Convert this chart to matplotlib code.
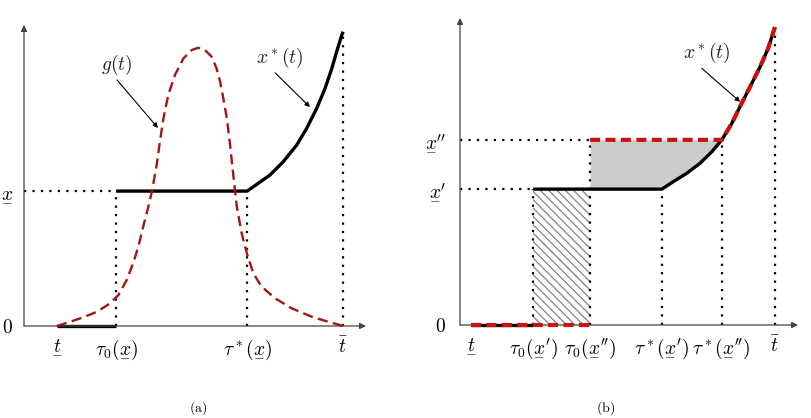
import matplotlib
matplotlib.use("Agg")
import matplotlib.pyplot as plt
from matplotlib.mathtext import MathTextParser

plt.rcParams["mathtext.fontset"] = "cm"
plt.rcParams["font.family"] = "serif"
plt.rcParams["font.serif"] = ["DejaVu Serif"]
plt.rcParams["hatch.linewidth"] = 0.8
plt.rcParams["hatch.color"] = "#777777"

# ---- panel (a) data ----
a_t_lo, a_tau0, a_taustar, a_tbar = 1.02, 2.86, 6.93, 9.91
a_xlevel = 4.19

a_g_t = [1.02, 1.43, 1.84, 2.26, 2.67, 2.93, 3.19, 3.39, 3.55, 3.70, 3.86,
         3.97, 4.12, 4.22, 4.33, 4.48, 4.69, 4.95, 5.21, 5.41, 5.62, 5.83,
         5.98, 6.09, 6.19, 6.30, 6.40, 6.50, 6.55, 6.61, 6.76, 6.92, 7.12,
         7.38, 7.80, 8.31, 8.93, 9.45, 9.91]
a_g_y = [0.00, 0.13, 0.27, 0.44, 0.70, 0.96, 1.43, 1.95, 2.46, 3.08, 3.70,
         4.17, 5.00, 5.72, 6.45, 7.17, 7.80, 8.31, 8.57, 8.64, 8.57, 8.36,
         8.00, 7.59, 7.07, 6.45, 5.62, 4.69, 4.22, 3.70, 2.88, 2.26, 1.64,
         1.22, 0.86, 0.55, 0.29, 0.13, 0.00]

a_curve_t = [6.93, 7.23, 7.64, 8.05, 8.47, 8.78, 9.09, 9.35, 9.56, 9.71,
             9.87, 9.91]
a_curve_y = [4.19, 4.40, 4.69, 5.10, 5.62, 6.14, 6.76, 7.38, 8.00, 8.52,
             9.04, 9.14]

# ---- panel (b) data ----
b_t_lo, b_tau0_1, b_tau0_2 = 0.34, 2.27, 4.04
b_taustar_1, b_taustar_2, b_tbar = 6.27, 8.13, 9.78
b_x1, b_x2 = 4.22, 5.75

b_curve_t = [6.27, 6.62, 7.04, 7.45, 7.82, 8.13, 8.44, 8.75, 9.01, 9.32,
             9.57, 9.78]
b_curve_y = [4.22, 4.45, 4.71, 5.02, 5.38, 5.75, 6.26, 6.89, 7.40, 8.02,
             8.59, 9.25]


def underline_ok():
    try:
        MathTextParser("path").parse(r"$\underline{x}$")
        return True
    except Exception:
        return False


if underline_ok():
    def ul(s):
        return r"\underline{%s}" % s
else:
    def ul(s):
        return r"\underset{-}{%s}" % s

a_xticks = [a_t_lo, a_tau0, a_taustar, a_tbar]
a_xlabels = ["$" + ul("t") + "$", r"$\tau_0(" + ul("x") + ")$",
             r"$\tau^*(" + ul("x") + ")$", r"$\bar{t}$"]
a_yticks = [0, a_xlevel]
a_ylabels = ["$0$", "$" + ul("x") + "$"]

b_xticks = [b_t_lo, b_tau0_1, b_tau0_2, b_taustar_1, b_taustar_2, b_tbar]
b_xlabels = ["$" + ul("t") + "$",
             r"$\tau_0(" + ul("x") + "')$", r"$\tau_0(" + ul("x") + "'')$",
             r"$\tau^*(" + ul("x") + "')$", r"$\tau^*(" + ul("x") + "'')$",
             r"$\bar{t}$"]
b_yticks = [0, b_x1, b_x2]
b_ylabels = ["$0$", "$" + ul("x") + "'$", "$" + ul("x") + "''$"]

DOT = dict(color="black", lw=1.6, linestyle=(0, (1, 2.8)), clip_on=False,
           dash_capstyle="butt")
BLACK = dict(color="black", lw=2.4, solid_capstyle="butt",
             solid_joinstyle="round", clip_on=False)
FS = 14

fig = plt.figure(figsize=(8.11, 4.18), dpi=100)
SCALE = 32.2  # pixels per data unit

ax_a = fig.add_axes([24 / 811, 92 / 418, 342 / 811, 301 / 418])
ax_a.set_xlim(0, 342 / SCALE)
ax_a.set_ylim(0, 301 / SCALE)
ax_b = fig.add_axes([460 / 811, 93 / 418, 338 / 811, 307 / 418])
ax_b.set_xlim(0, 338 / SCALE)
ax_b.set_ylim(0, 307 / SCALE)


def setup(ax, xt, xl, yt, yl, ypad):
    for s in ax.spines.values():
        s.set_visible(False)
    ax.set_xticks(xt, xl)
    ax.set_yticks(yt, yl)
    ax.tick_params(axis="x", length=0, pad=8, labelsize=FS)
    ax.tick_params(axis="y", length=0, pad=ypad, labelsize=FS)
    arrow = dict(arrowstyle="-|>", lw=0.9, color="#444444",
                 mutation_scale=9, shrinkA=0, shrinkB=0)
    ax.annotate("", xy=(1, 0), xytext=(0, 0), xycoords="axes fraction",
                arrowprops=arrow)
    ax.annotate("", xy=(0, 1), xytext=(0, 0), xycoords="axes fraction",
                arrowprops=arrow)


def label_arrow(ax, text, text_xy, tail, head):
    ax.text(text_xy[0], text_xy[1], text, fontsize=FS, ha="center",
            va="center", color="#222222")
    ax.annotate("", xy=head, xytext=tail,
                arrowprops=dict(arrowstyle="-|>", lw=0.8, color="black",
                                mutation_scale=7, shrinkA=0, shrinkB=0))


# ---------------- panel (a) ----------------
setup(ax_a, a_xticks, a_xlabels, a_yticks, a_ylabels, 8)
ax_a.plot([0, a_tau0], [a_xlevel, a_xlevel], **DOT)
ax_a.plot([a_tau0, a_tau0], [0, a_xlevel], **DOT)
ax_a.plot([a_taustar, a_taustar], [0, a_xlevel], **DOT)
ax_a.plot([a_tbar, a_tbar], [0, a_curve_y[-1]], **DOT)
ax_a.plot([a_t_lo, a_tau0], [0, 0], **BLACK)
ax_a.plot([a_tau0] + a_curve_t, [a_xlevel] + a_curve_y, **BLACK)
ax_a.plot(a_g_t, a_g_y, color="#a31515", lw=1.7, linestyle=(0, (4.3, 2.3)),
          clip_on=False, zorder=3)
label_arrow(ax_a, "$g(t)$", (2.89, 8.11), (2.89, 7.64), (4.16, 6.15))
label_arrow(ax_a, "$x^*(t)$", (7.95, 8.32), (7.80, 7.86), (8.88, 6.80))

# ---------------- panel (b) ----------------
setup(ax_b, b_xticks, b_xlabels, b_yticks, b_ylabels, 10)

# grey area between x'' and the lower path
fill_t = [b_tau0_2] + [t for t in b_curve_t if t <= b_taustar_2]
fill_low = [b_x1] + [y for t, y in zip(b_curve_t, b_curve_y) if t <= b_taustar_2]
ax_b.fill_between(fill_t, fill_low, b_x2, color="#cccccc", lw=0, zorder=1)
# hatched block
ax_b.fill_between([b_tau0_1, b_tau0_2], 0, b_x1, facecolor="none",
                  edgecolor="#777777", hatch="\\\\\\\\", lw=0, zorder=1)

for t0, top in [(b_tau0_1, b_x1), (b_tau0_2, b_x2), (b_taustar_1, b_x1),
                (b_taustar_2, b_x2), (b_tbar, b_curve_y[-1])]:
    ax_b.plot([t0, t0], [0, top], zorder=2, **DOT)
ax_b.plot([0, b_tau0_1], [b_x1, b_x1], **DOT)
ax_b.plot([0, b_tau0_2], [b_x2, b_x2], **DOT)

ax_b.plot([b_t_lo, b_tau0_1], [0, 0], zorder=3, **BLACK)
ax_b.plot([b_tau0_1] + b_curve_t, [b_x1] + b_curve_y, zorder=3, **BLACK)

RED = "#cc1111"
ax_b.plot([b_t_lo, b_tau0_2], [0, 0], color=RED, lw=3.0,
          linestyle=(0, (2.4, 1.3)), clip_on=False, zorder=4)
red_t = [b_tau0_2] + [t for t in b_curve_t if t >= b_taustar_2]
red_y = [b_x2] + [y for t, y in zip(b_curve_t, b_curve_y) if t >= b_taustar_2]
ax_b.plot(red_t, red_y, color=RED, lw=3.0, linestyle=(0, (2.4, 1.3)),
          clip_on=False, zorder=4)
label_arrow(ax_b, "$x^*(t)$", (7.66, 8.44), (7.51, 7.97), (8.70, 6.93))

fig.text(198 / 811, 1 - 408 / 418, r"$(\mathrm{a})$", fontsize=10,
         ha="center", va="center")
fig.text(606 / 811, 1 - 408 / 418, r"$(\mathrm{b})$", fontsize=10,
         ha="center", va="center")

fig.savefig("out.png", dpi=100)
